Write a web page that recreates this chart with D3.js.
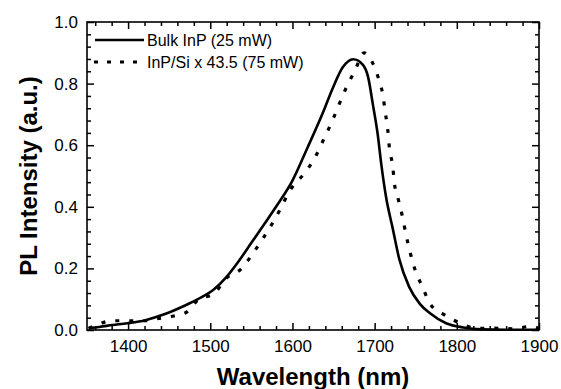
<!DOCTYPE html>
<html>
<head>
<meta charset="utf-8">
<script src="https://cdn.jsdelivr.net/npm/d3@7"></script>
<style>
  html, body { margin: 0; padding: 0; background: #fff; }
  svg { display: block; }
  text { font-family: Arial, "Liberation Sans", Helvetica, sans-serif; fill: #000; }
</style>
</head>
<body>
<svg id="chart" width="561" height="389"></svg>
<script>
// ---- data ----
const bulkWavelength = [1352, 1365, 1381, 1399, 1421, 1444, 1468, 1485, 1505, 1519, 1535, 1550, 1566, 1580, 1600, 1618, 1637, 1649, 1661, 1674, 1686, 1692, 1698, 1704, 1708, 1714, 1722, 1730, 1742, 1755, 1767, 1787, 1808, 1830, 1860, 1900];
const bulkIntensity  = [0.006, 0.010, 0.016, 0.022, 0.032, 0.051, 0.078, 0.100, 0.133, 0.170, 0.225, 0.283, 0.345, 0.400, 0.485, 0.590, 0.705, 0.785, 0.852, 0.879, 0.860, 0.822, 0.730, 0.630, 0.540, 0.430, 0.330, 0.230, 0.140, 0.085, 0.055, 0.022, 0.008, 0.002, 0.001, 0.001];

const siWavelength = [1352, 1367, 1381, 1399, 1423, 1432, 1451, 1470, 1486, 1504, 1520, 1537, 1552, 1566, 1578, 1600, 1615, 1629, 1638, 1648, 1657, 1666, 1676, 1687, 1696, 1705, 1710, 1713, 1716, 1718, 1722, 1724, 1729, 1734, 1738, 1743, 1749, 1758, 1767, 1785, 1807, 1824, 1845, 1870, 1890, 1900];
const siIntensity  = [0.005, 0.022, 0.030, 0.030, 0.030, 0.035, 0.043, 0.056, 0.100, 0.117, 0.169, 0.197, 0.249, 0.305, 0.357, 0.465, 0.510, 0.568, 0.619, 0.676, 0.734, 0.790, 0.842, 0.900, 0.875, 0.814, 0.763, 0.706, 0.649, 0.590, 0.532, 0.478, 0.422, 0.366, 0.312, 0.254, 0.197, 0.141, 0.087, 0.049, 0.019, 0.005, 0.006, 0.004, 0.012, 0.005];

const seriesNames = ["Bulk InP (25 mW)", "InP/Si x 43.5 (75 mW)"];
const xTicks = [1400, 1500, 1600, 1700, 1800, 1900];
const yTicks = [0.0, 0.2, 0.4, 0.6, 0.8, 1.0];
const xLabel = "Wavelength (nm)";
const yLabel = "PL Intensity (a.u.)";

// ---- layout ----
const pLeft = 87, pRight = 539, pTop = 22, pBottom = 330;
const svg = d3.select("#chart");

const x = d3.scaleLinear().domain([1350, 1900]).range([pLeft, pRight]);
const y = d3.scaleLinear().domain([0, 1]).range([pBottom, pTop]);

const xMinor = d3.range(1360, 1900, 20).filter(v => v % 100 !== 0);
const yMinor = d3.range(0.04, 1.0, 0.04).filter(v => Math.abs(v * 5 - Math.round(v * 5)) > 1e-6);

function styleAxis(g) {
  g.select(".domain").remove();
  g.selectAll(".tick line").attr("stroke", "#000").attr("stroke-width", 1.5);
  g.selectAll(".tick text").style("font-size", "17px").attr("fill", "#000");
}

// major axes (ticks pointing inward)
svg.append("g").attr("transform", `translate(0,${pBottom})`)
  .call(d3.axisBottom(x).tickValues(xTicks).tickFormat(d3.format("d")).tickSizeInner(-7).tickSizeOuter(0).tickPadding(10))
  .call(styleAxis);
svg.append("g").attr("transform", `translate(${pLeft},0)`)
  .call(d3.axisLeft(y).tickValues(yTicks).tickFormat(d3.format(".1f")).tickSizeInner(-7).tickSizeOuter(0).tickPadding(9))
  .call(styleAxis);
svg.append("g").attr("transform", `translate(0,${pTop})`)
  .call(d3.axisTop(x).tickValues(xTicks).tickSizeInner(-7).tickSizeOuter(0).tickFormat(""))
  .call(styleAxis);
svg.append("g").attr("transform", `translate(${pRight},0)`)
  .call(d3.axisRight(y).tickValues(yTicks).tickSizeInner(-7).tickSizeOuter(0).tickFormat(""))
  .call(styleAxis);

// minor ticks
svg.append("g").attr("transform", `translate(0,${pBottom})`)
  .call(d3.axisBottom(x).tickValues(xMinor).tickSizeInner(-4).tickSizeOuter(0).tickFormat(""))
  .call(styleAxis);
svg.append("g").attr("transform", `translate(0,${pTop})`)
  .call(d3.axisTop(x).tickValues(xMinor).tickSizeInner(-4).tickSizeOuter(0).tickFormat(""))
  .call(styleAxis);
svg.append("g").attr("transform", `translate(${pLeft},0)`)
  .call(d3.axisLeft(y).tickValues(yMinor).tickSizeInner(-4).tickSizeOuter(0).tickFormat(""))
  .call(styleAxis);
svg.append("g").attr("transform", `translate(${pRight},0)`)
  .call(d3.axisRight(y).tickValues(yMinor).tickSizeInner(-4).tickSizeOuter(0).tickFormat(""))
  .call(styleAxis);

// frame
svg.append("rect").attr("x", pLeft).attr("y", pTop)
  .attr("width", pRight - pLeft).attr("height", pBottom - pTop)
  .attr("fill", "none").attr("stroke", "#000").attr("stroke-width", 1.6);

// lines
const bulk = bulkWavelength.map((w, i) => [w, bulkIntensity[i]]);
const si = siWavelength.map((w, i) => [w, siIntensity[i]]);
const line = d3.line().x(d => x(d[0])).y(d => y(d[1])).curve(d3.curveMonotoneX);

svg.append("path").datum(bulk).attr("d", line)
  .attr("fill", "none").attr("stroke", "#000").attr("stroke-width", 2.6)
  .attr("stroke-linejoin", "round");
svg.append("path").datum(si).attr("d", line)
  .attr("fill", "none").attr("stroke", "#000").attr("stroke-width", 3.2)
  .attr("stroke-dasharray", "4,10");

// legend
const lg = svg.append("g");
lg.append("line").attr("x1", 95).attr("x2", 144).attr("y1", 40).attr("y2", 40)
  .attr("stroke", "#000").attr("stroke-width", 2.6);
lg.append("text").attr("x", 147).attr("y", 46).style("font-size", "16px").text(seriesNames[0]);
lg.append("line").attr("x1", 94).attr("x2", 138).attr("y1", 62).attr("y2", 62)
  .attr("stroke", "#000").attr("stroke-width", 3.2).attr("stroke-dasharray", "4,9");
lg.append("text").attr("x", 147).attr("y", 68).style("font-size", "16px").text(seriesNames[1]);

// axis titles
svg.append("text").attr("x", (pLeft + pRight) / 2).attr("y", 385)
  .attr("text-anchor", "middle").style("font-size", "24px").style("font-weight", "bold")
  .text(xLabel);
svg.append("text").attr("transform", `translate(37,${(pTop + pBottom) / 2}) rotate(-90)`)
  .attr("text-anchor", "middle").style("font-size", "24px").style("font-weight", "bold")
  .text(yLabel);
</script>
</body>
</html>
